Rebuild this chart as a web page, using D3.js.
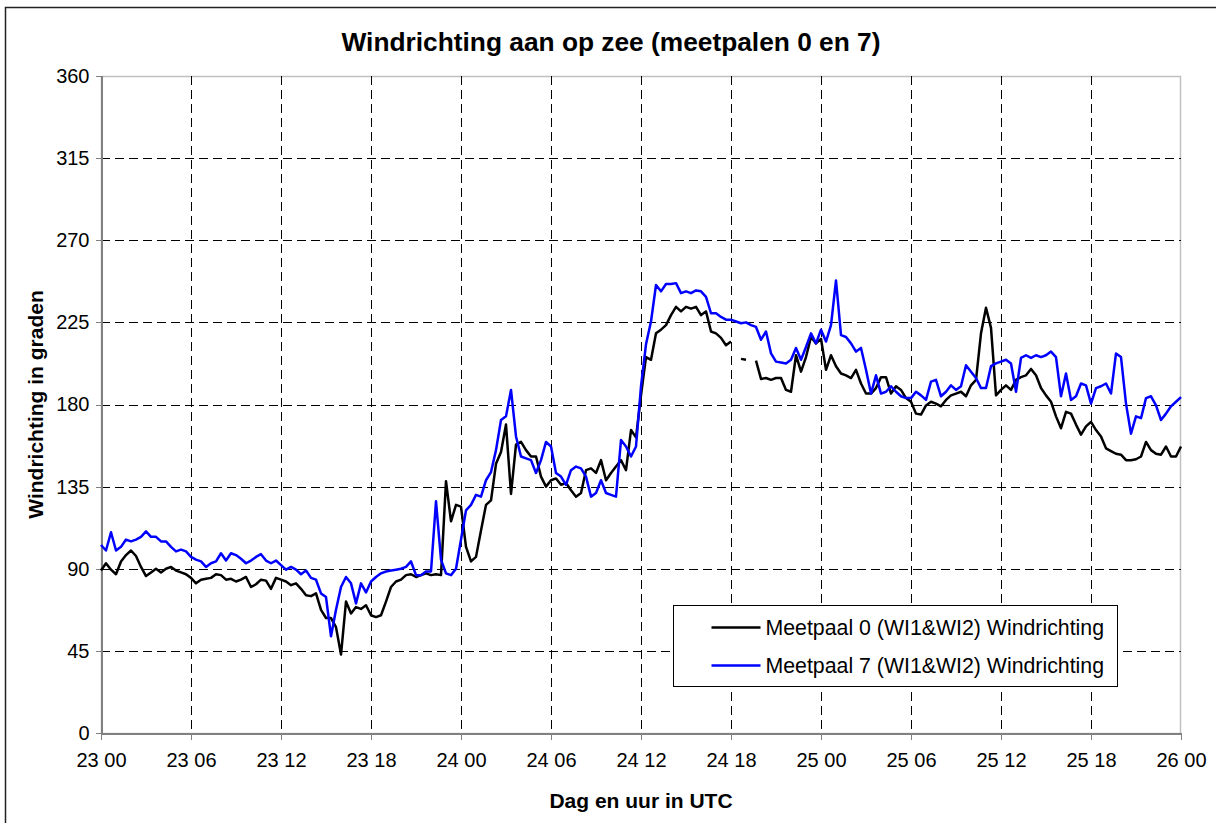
<!DOCTYPE html>
<html>
<head>
<meta charset="utf-8">
<script src="https://cdn.jsdelivr.net/npm/d3@7"></script>
<style>
  html, body { margin: 0; padding: 0; background: #fff; }
  svg { display: block; font-family: "Liberation Sans", Arial, sans-serif; }
  .grid line { stroke: #000; stroke-width: 1; stroke-dasharray: 9,5; shape-rendering: crispEdges; }
  .axis path, .axis line { stroke: #808080; shape-rendering: crispEdges; }
  .axis text { font-size: 20px; fill: #000; }
</style>
</head>
<body>
<div id="chart"></div>
<script>
/*
 * Windrichting op zee, meetpaal 0 en 7.
 * Samples every 20 minutes from 23 00 to 26 00 UTC (hours since 23 00).
 */
var startHour = 0,
    stepHours = 1 / 3;

var seriesNames = ['Meetpaal 0 (WI1&WI2) Windrichting', 'Meetpaal 7 (WI1&WI2) Windrichting'];
var seriesColors = ['#000000', '#0000ff'];

var yTicks = [0, 45, 90, 135, 180, 225, 270, 315, 360];
var xTicks = [0, 6, 12, 18, 24, 30, 36, 42, 48, 54, 60, 66, 72];
var xTickLabels = ['23 00', '23 06', '23 12', '23 18', '24 00', '24 06', '24 12',
                   '24 18', '25 00', '25 06', '25 12', '25 18', '26 00'];

// meetpaal 0 (black), one row per 6 hours
var meetpaal0 = [
  89, 93, 89.5, 87, 94, 97.5, 100, 97, 91, 86, 88, 90, 88, 90, 91, 89, 88, 87,
  85, 82, 84, 84.5, 85, 87, 86.5, 84, 84.5, 83, 84, 85.5, 80, 81.5, 84, 83.5, 79, 85,
  84, 83, 81, 82, 79, 75.5, 75, 76.5, 67.5, 63, 63, 58, 43, 72, 65.5, 69, 68, 70,
  64.5, 63.5, 64.5, 72, 80, 83, 84, 86.5, 87, 85.5, 86.5, 87.5, 86.5, 87, 86.5, 138, 116, 125,
  124, 102, 94, 96.5, 111, 125, 127.5, 147.5, 154, 169, 131, 158, 159.5, 155, 151.5, 151.5, 140.5, 135,
  138.5, 139.5, 136, 137, 133, 129.5, 131.5, 144, 145, 142.5, 149.5, 138.5, 142.5, 146, 149.5, 144, 166, 162,
  185, 206, 204.5, 219, 221, 223.5, 229, 233.5, 231, 233.5, 232.5, 233.5, 229, 231, 220, 219, 216.5, 212.5,
  214.5, null, 205, 204.5, null, 204, 194, 194.5, 193.5, 194.5, 194.5, 188, 187, 207, 198, 206, 217, 213.5,
  216, 199, 207, 201, 197, 196, 194.5, 199, 191.5, 186, 186, 189, 195, 195, 186, 190, 188, 183.5,
  181.5, 175, 174.5, 179.5, 181.5, 180.5, 179, 182.5, 185, 186, 187, 184.5, 190.5, 193.5, 219, 233, 222, 185,
  188, 190.5, 188, 193.5, 195, 196, 199.5, 196, 189, 185, 181.5, 173.5, 167, 176, 175, 169, 163.5, 168,
  170.5, 166, 162.5, 156, 154.5, 153, 152.5, 149.5, 149.5, 150, 151.5, 159.5, 155, 153, 152.5, 157, 151.5, 151.5,
  157
];

// meetpaal 7 (blue)
var meetpaal7 = [
  103, 100, 110, 100, 102, 106, 105, 106, 107.5, 110.5, 107.5, 107.5, 105, 105, 102, 99.5, 100.5, 99.5,
  96.5, 95, 94, 91, 93, 94, 98.5, 94.5, 98.5, 97.5, 95.5, 93, 94.5, 96.5, 98, 94.5, 93, 94.5,
  92, 89.5, 91, 89.5, 87, 89, 85, 84, 76.5, 74.5, 53, 67.5, 80, 85.5, 82, 71, 82, 77,
  83, 85.5, 87.5, 88.5, 89, 89.5, 90, 91, 94, 86.5, 86.5, 88.5, 88.5, 127, 95, 87.5, 86.5, 90,
  106, 122, 125, 130.5, 129.5, 138.5, 143, 155, 171.5, 173.5, 188, 162.5, 151.5, 150.5, 149.5, 142.5, 149.5, 159.5,
  157, 142.5, 140.5, 136, 144, 146, 145, 140.5, 129.5, 131.5, 138.5, 131.5, 130.5, 129.5, 160.5, 157, 151.5, 157,
  190, 213, 225.5, 245.5, 242, 246, 246, 246.5, 241, 242, 241, 242.5, 242, 239, 230, 230, 228, 226.5,
  226.5, 225.5, 224.5, 225, 223.5, 222.5, 215.5, 220, 208, 203.5, 203, 202.5, 204.5, 211, 204.5, 211.5, 219, 213.5,
  221, 214.5, 223.5, 248, 218, 217, 213.5, 209, 211, 199, 186, 196, 186, 187, 190, 187, 184.5, 183.5,
  183.5, 187, 185, 182.5, 192.5, 193.5, 184.5, 187, 190.5, 188, 190, 201.5, 198, 194.5, 189, 189, 201, 202.5,
  203.5, 204.5, 202.5, 187, 205.5, 207, 205.5, 207, 206, 207, 209, 206, 184.5, 197, 182.5, 184.5, 191.5, 190.5,
  180.5, 189, 190, 191.5, 186, 208, 206, 180.5, 164, 173.5, 172.5, 183.5, 184.5, 179.5, 171.5, 175, 179, 181.5,
  184
];

var width = 1216, height = 823;
var plot = { left: 101, right: 1181, top: 76, bottom: 733 };

var svg = d3.select('#chart').append('svg')
    .attr('width', width)
    .attr('height', height);

// outer chart frame (runs off the right and bottom edges)
svg.append('rect')
    .attr('x', 5.5).attr('y', 7.5)
    .attr('width', 1400).attr('height', 1000)
    .attr('fill', '#fff')
    .attr('stroke', '#222')
    .attr('stroke-width', 1.5);

var x = d3.scaleLinear().domain([0, 72]).range([plot.left, plot.right]);
var y = d3.scaleLinear().domain([0, 360]).range([plot.bottom, plot.top]);

// plot area border
svg.append('rect')
    .attr('x', plot.left + 0.5).attr('y', plot.top + 0.5)
    .attr('width', plot.right - plot.left - 1)
    .attr('height', plot.bottom - plot.top)
    .attr('fill', 'none')
    .attr('stroke', '#c0c0c0')
    .attr('stroke-width', 1.5);

// gridlines
var grid = svg.append('g').attr('class', 'grid');
grid.selectAll('.hg')
    .data(yTicks.filter(function(d){ return d > 0 && d < 360; }))
    .enter().append('line')
    .attr('x1', plot.left).attr('x2', plot.right)
    .attr('y1', function(d){ return Math.round(y(d)) + 0.5; })
    .attr('y2', function(d){ return Math.round(y(d)) + 0.5; });
grid.selectAll('.vg')
    .data(xTicks.filter(function(d){ return d > 0 && d < 72; }))
    .enter().append('line')
    .attr('y1', plot.top).attr('y2', plot.bottom)
    .attr('x1', function(d){ return Math.round(x(d)) + 0.5; })
    .attr('x2', function(d){ return Math.round(x(d)) + 0.5; });

// axes
var yAxis = d3.axisLeft(y).tickValues(yTicks).tickSize(6).tickPadding(6);
svg.append('g')
    .attr('class', 'axis')
    .attr('transform', 'translate(' + (plot.left + 0.5) + ',0)')
    .call(yAxis)
    .call(function(g){ g.select('.domain').attr('stroke-width', 1.5); });

var xAxis = d3.axisBottom(x).tickValues(xTicks).tickSize(6).tickPadding(13)
    .tickFormat(function(d, i){ return xTickLabels[i]; });
svg.append('g')
    .attr('class', 'axis')
    .attr('transform', 'translate(0,' + (plot.bottom + 0.5) + ')')
    .call(xAxis)
    .call(function(g){ g.select('.domain').attr('stroke', '#000').attr('stroke-width', 1.5); });

// series
var line = d3.line()
    .defined(function(d){ return d != null; })
    .x(function(d, i){ return x(startHour + i * stepHours); })
    .y(function(d){ return y(d); });

[meetpaal0, meetpaal7].forEach(function(vals, k){
    svg.append('path')
        .datum(vals)
        .attr('fill', 'none')
        .attr('stroke', seriesColors[k])
        .attr('stroke-width', 2.5)
        .attr('stroke-linejoin', 'round')
        .attr('d', line);
});

// titles
svg.append('text')
    .attr('x', 611).attr('y', 51)
    .attr('text-anchor', 'middle')
    .style('font-size', '26.3px').style('font-weight', 'bold')
    .text('Windrichting aan op zee (meetpalen 0 en 7)');

svg.append('text')
    .attr('transform', 'translate(43,' + ((plot.top + plot.bottom) / 2) + ') rotate(-90)')
    .attr('text-anchor', 'middle')
    .style('font-size', '21px').style('font-weight', 'bold')
    .text('Windrichting in graden');

svg.append('text')
    .attr('x', (plot.left + plot.right) / 2).attr('y', 808)
    .attr('text-anchor', 'middle')
    .style('font-size', '21px').style('font-weight', 'bold')
    .text('Dag en uur in UTC');

// legend
var legend = svg.append('g').attr('transform', 'translate(673.5,605.5)');
legend.append('rect')
    .attr('width', 444).attr('height', 81)
    .attr('fill', '#fff').attr('stroke', '#000').attr('stroke-width', 1);
seriesNames.forEach(function(name, k){
    var ly = 22 + k * 38;
    legend.append('line')
        .attr('x1', 38).attr('x2', 87)
        .attr('y1', ly).attr('y2', ly)
        .attr('stroke', seriesColors[k]).attr('stroke-width', 2.5);
    legend.append('text')
        .attr('x', 92).attr('y', ly + 7)
        .style('font-size', '21.3px')
        .text(name);
});
</script>
</body>
</html>
